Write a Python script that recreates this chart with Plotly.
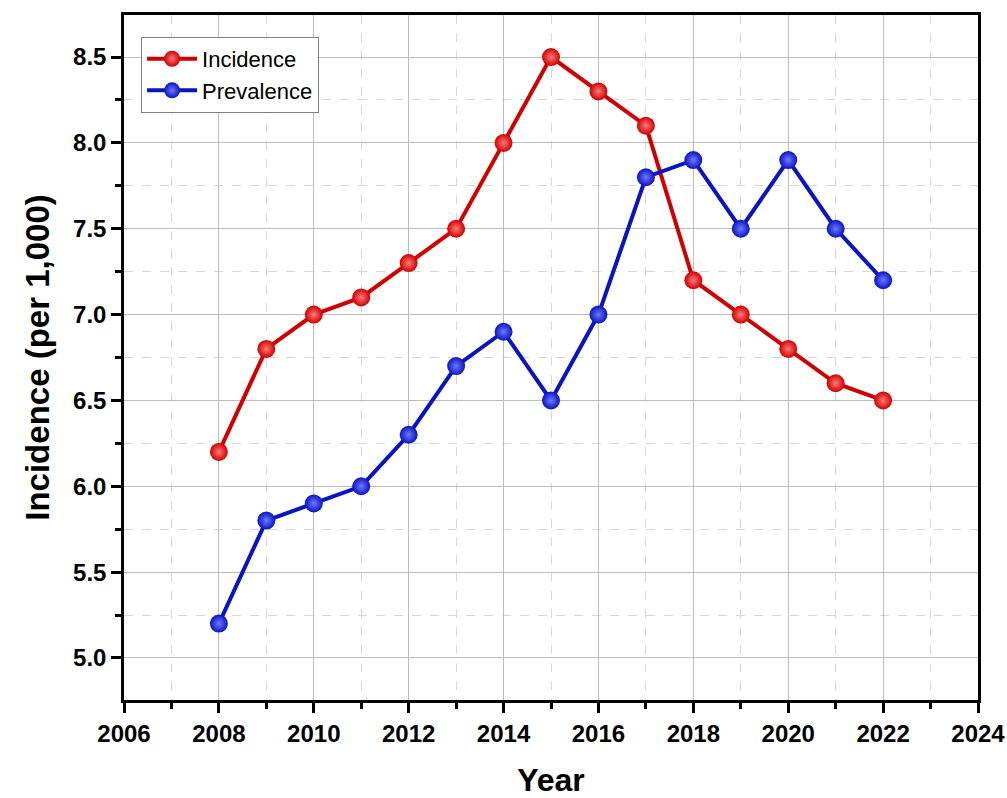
import plotly.graph_objects as go

years = [2008, 2009, 2010, 2011, 2012, 2013, 2014, 2015, 2016, 2017, 2018, 2019, 2020, 2021, 2022]
incidence = [6.2, 6.8, 7.0, 7.1, 7.3, 7.5, 8.0, 8.5, 8.3, 8.1, 7.2, 7.0, 6.8, 6.6, 6.5]
prevalence = [5.2, 5.8, 5.9, 6.0, 6.3, 6.7, 6.9, 6.5, 7.0, 7.8, 7.9, 7.5, 7.9, 7.5, 7.2]

RED = "#d00000"
BLUE = "#0a14c0"
FONT = "Arial, Liberation Sans"

fig = go.Figure()
for name, vals, col, hl in [("Incidence", incidence, RED, "#ff7878"),
                            ("Prevalence", prevalence, BLUE, "#6e78ff")]:
    fig.add_trace(go.Scatter(
        x=years, y=vals, name=name, mode="lines+markers",
        line=dict(color=col, width=4),
        marker=dict(size=18, color=col, line=dict(width=0),
                    gradient=dict(type="radial", color=hl)),
    ))

axis_common = dict(
    showline=True, linecolor="black", linewidth=2.5, mirror=True,
    ticks="outside", ticklen=10, tickwidth=2.5, tickcolor="black",
    showgrid=True, gridcolor="#bdbdbd", gridwidth=1,
    tickfont=dict(family=FONT, size=24, color="black", weight="bold"),
    zeroline=False, automargin=False,
)

fig.update_xaxes(
    **axis_common,
    range=[2006, 2024], tickmode="linear", tick0=2006, dtick=2,
    minor=dict(dtick=1, tick0=2006, ticks="outside", ticklen=6, tickwidth=2.5, tickcolor="black",
               showgrid=True, gridcolor="#d6d6d6", griddash="dash", gridwidth=1),
    title=dict(text="Year", font=dict(family=FONT, size=32, color="black", weight="bold"),
               standoff=38),
)
fig.update_yaxes(
    **axis_common,
    range=[4.755, 8.745], tickmode="linear", tick0=5.0, dtick=0.5, tickformat=".1f",
    minor=dict(dtick=0.25, tick0=5.0, ticks="outside", ticklen=6, tickwidth=2.5, tickcolor="black",
               showgrid=True, gridcolor="#d6d6d6", griddash="dash", gridwidth=1),
    title=dict(text="Incidence (per 1,000)", font=dict(family=FONT, size=33, color="black", weight="bold"),
               standoff=14),
)

fig.update_layout(
    width=1007, height=798,
    margin=dict(l=124, r=29, t=15, b=98),
    paper_bgcolor="white", plot_bgcolor="white",
    showlegend=True,
    legend=dict(x=0.02, y=0.968, xanchor="left", yanchor="top",
                bgcolor="white", bordercolor="#808080", borderwidth=1,
                font=dict(family=FONT, size=22, color="black"),
                itemwidth=50, tracegroupgap=0),
)

fig.write_html("out.html")
